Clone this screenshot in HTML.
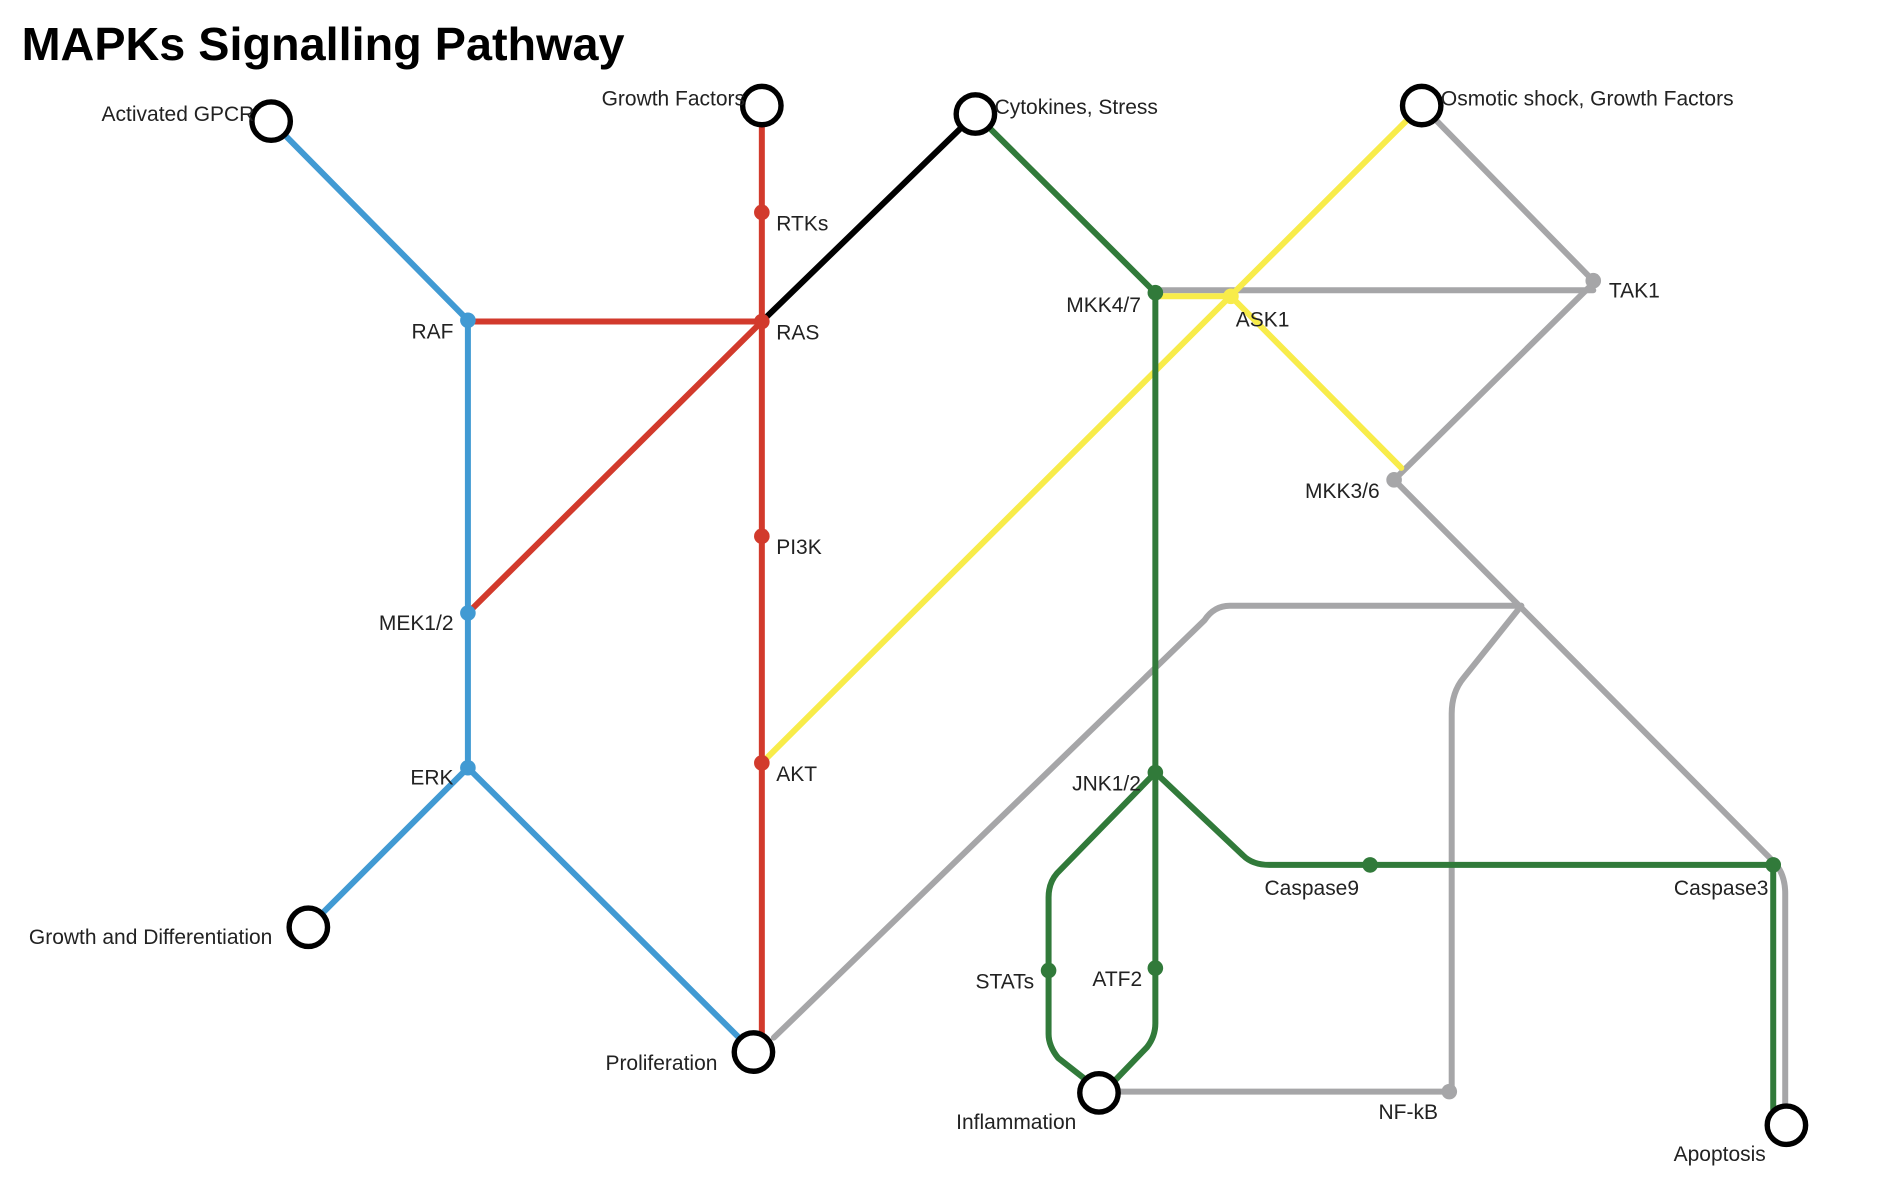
<!DOCTYPE html>
<html><head><meta charset="utf-8"><style>
html,body{margin:0;padding:0;background:#fff;}
svg{display:block;}
text{font-family:"Liberation Sans",Arial,sans-serif;fill:#222;}
</style></head><body>
<svg width="1880" height="1202" viewBox="0 0 1567 1002" preserveAspectRatio="none" xmlns="http://www.w3.org/2000/svg">
<text x="18" y="50" style="font-size:39px;font-weight:bold;fill:#000">MAPKs Signalling Pathway</text>
<g fill="none" stroke-width="5" stroke-linecap="round" stroke-linejoin="round">
<g stroke="#a6a6a8">
<path d="M1185 88 L1328 234"/>
<path d="M963 242 L1328 242"/>
<path d="M1328 236 L1162 400 L1478 718 Q1488 728 1488 745 L1488 925"/>
<path d="M1268 505 L1025 505 Q1012 505 1004 517 L645 865"/>
<path d="M1268 505 L1220 565 Q1210 577 1210 595 L1210 910"/>
<path d="M930 910 L1208 910"/>
</g>
<g stroke="#f8ec4a">
<path d="M1185 88 L635 636"/>
<path d="M963 247 L1026 247 L1168 390"/>
</g>
<path d="M635 268 L813 95" stroke="#000"/>
<g stroke="#d23a2c">
<path d="M635 88 L635 877"/>
<path d="M390 268 L635 268 L390 511"/>
</g>
<g stroke="#419ad3">
<path d="M226 101 L390 267 L390 640 L257 773"/>
<path d="M390 640 L628 877"/>
</g>
<g stroke="#317a3a">
<path d="M813 95 L963 244 L963 853 Q963 864 956 873 L930 900"/>
<path d="M963 644 L881 728 Q874 736 874 748 L874 862 Q874 872 882 882 L905 900"/>
<path d="M963 644 L1036 713 Q1044 721 1058 721 L1478 721 L1478 925"/>
</g>
</g>
<g>
<circle cx="390" cy="267" r="6.5" fill="#419ad3"/>
<circle cx="390" cy="511" r="6.5" fill="#419ad3"/>
<circle cx="390" cy="640" r="6.5" fill="#419ad3"/>
<circle cx="635" cy="177" r="6.5" fill="#d23a2c"/>
<circle cx="635" cy="268" r="6.5" fill="#d23a2c"/>
<circle cx="635" cy="447" r="6.5" fill="#d23a2c"/>
<circle cx="635" cy="636" r="6.5" fill="#d23a2c"/>
<circle cx="963" cy="244" r="6.5" fill="#317a3a"/>
<circle cx="1026" cy="247" r="6.5" fill="#f8ec4a"/>
<circle cx="1328" cy="234" r="6.5" fill="#a6a6a8"/>
<circle cx="1162" cy="400" r="6.5" fill="#a6a6a8"/>
<circle cx="963" cy="644" r="6.5" fill="#317a3a"/>
<circle cx="874" cy="809" r="6.5" fill="#317a3a"/>
<circle cx="963" cy="807" r="6.5" fill="#317a3a"/>
<circle cx="1142" cy="721" r="6.5" fill="#317a3a"/>
<circle cx="1478" cy="721" r="6.5" fill="#317a3a"/>
<circle cx="1208" cy="910" r="6.5" fill="#a6a6a8"/>
</g>
<g fill="#fff" stroke="#000" stroke-width="4.5">
<circle cx="226" cy="101" r="16"/>
<circle cx="635" cy="88" r="16"/>
<circle cx="813" cy="95" r="16"/>
<circle cx="1185" cy="88" r="16"/>
<circle cx="257" cy="773" r="16"/>
<circle cx="628" cy="877" r="16"/>
<circle cx="916" cy="911" r="16"/>
<circle cx="1489" cy="938" r="16"/>
</g>
<g style="font-size:17.5px">
<g text-anchor="end">
<text x="212" y="101">Activated GPCR</text>
<text x="621" y="88">Growth Factors</text>
<text x="378" y="282">RAF</text>
<text x="378" y="525">MEK1/2</text>
<text x="378" y="654">ERK</text>
<text x="227" y="787">Growth and Differentiation</text>
<text x="598" y="892">Proliferation</text>
<text x="951" y="260">MKK4/7</text>
<text x="1150" y="415">MKK3/6</text>
<text x="951" y="659">JNK1/2</text>
<text x="862" y="824">STATs</text>
<text x="952" y="822">ATF2</text>
<text x="1474" y="746">Caspase3</text>
</g>
<text x="829" y="95">Cytokines, Stress</text>
<text x="1201" y="88">Osmotic shock, Growth Factors</text>
<text x="647" y="192">RTKs</text>
<text x="647" y="283">RAS</text>
<text x="647" y="462">PI3K</text>
<text x="647" y="651">AKT</text>
<text x="1030" y="272">ASK1</text>
<text x="1341" y="248">TAK1</text>
<text x="1054" y="746">Caspase9</text>
<text x="797" y="941">Inflammation</text>
<text x="1149" y="933">NF-kB</text>
<text x="1395" y="968">Apoptosis</text>
</g>
</svg>
</body></html>
